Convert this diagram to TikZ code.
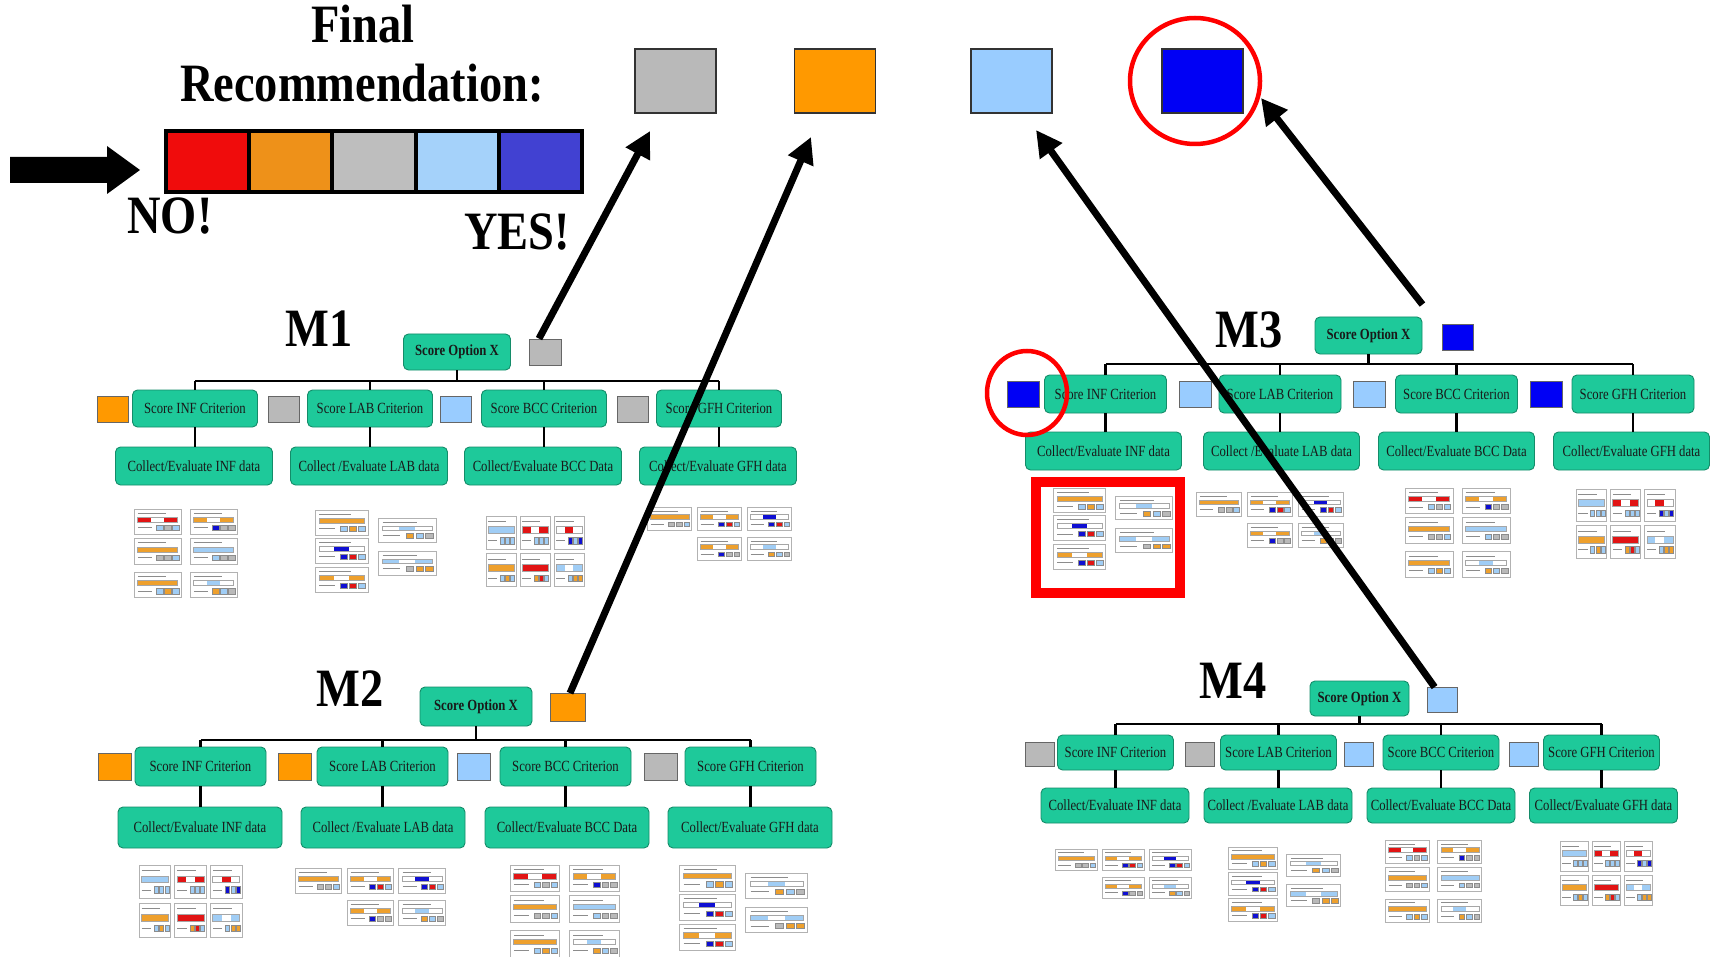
\documentclass[tikz,border=0pt]{standalone}
\usepackage{fontspec}
\setmainfont{Liberation Serif}
\usetikzlibrary{arrows.meta,calc}
\definecolor{teal1}{RGB}{30,201,154}
\definecolor{teal2}{RGB}{20,140,105}
\definecolor{cR}{RGB}{225,20,20}
\definecolor{cO}{RGB}{238,160,45}
\definecolor{cG}{RGB}{185,185,185}
\definecolor{cL}{RGB}{160,205,245}
\definecolor{cB}{RGB}{15,15,210}
\definecolor{lR}{RGB}{240,12,12}
\definecolor{lO}{RGB}{238,145,25}
\definecolor{lG}{RGB}{190,190,190}
\definecolor{lL}{RGB}{165,210,250}
\definecolor{lB}{RGB}{65,65,210}
\definecolor{tO}{RGB}{255,153,0}
\definecolor{tL}{RGB}{153,204,255}
\definecolor{tB}{RGB}{0,0,245}
\definecolor{tG}{RGB}{185,185,185}
\newcommand\bigT[1]{\scalebox{0.86}[1]{\fontsize{54}{60}\selectfont\bfseries #1}}
\newcommand\bt[1]{\scalebox{0.82}[1]{#1}}
\def\cardw{47}\def\cardh{25}
\newcommand\mycard[8]{%
 \fill[white] (#1,#2) rectangle ++(\cardw,\cardh);
 \draw[cardtxt] ({#1+0.08*\cardw},{#2+0.17*\cardh}) -- ++({0.6*\cardw},0);
 \fill[#3] ({#1+0.07*\cardw},{#2+0.32*\cardh}) rectangle ++({0.286*\cardw},{0.2*\cardh});
 \fill[#4] ({#1+0.356*\cardw},{#2+0.32*\cardh}) rectangle ++({0.286*\cardw},{0.2*\cardh});
 \fill[#5] ({#1+0.642*\cardw},{#2+0.32*\cardh}) rectangle ++({0.286*\cardw},{0.2*\cardh});
 \draw[cardline] ({#1+0.07*\cardw},{#2+0.32*\cardh}) rectangle ++({0.858*\cardw},{0.2*\cardh});
 \draw[cardtxt] ({#1+0.08*\cardw},{#2+0.74*\cardh}) -- ++({0.3*\cardw},0);
 \filldraw[cardsq,fill=#6] ({#1+0.48*\cardw},{#2+0.64*\cardh}) rectangle ++({0.13*\cardw},{0.2*\cardh});
 \filldraw[cardsq,fill=#7] ({#1+0.65*\cardw},{#2+0.64*\cardh}) rectangle ++({0.13*\cardw},{0.2*\cardh});
 \filldraw[cardsq,fill=#8] ({#1+0.82*\cardw},{#2+0.64*\cardh}) rectangle ++({0.13*\cardw},{0.2*\cardh});
 \draw[cardbox] (#1,#2) rectangle ++(\cardw,\cardh);
}
\newcommand\cardsA{%
 \def\cardw{47}\def\cardh{25}%
 \mycard{0}{0}{cR}{white}{cR}{cL}{cG}{cL}
 \mycard{56}{0}{cO}{white}{cO}{cB}{cG}{cG}
 \mycard{0}{29}{cO}{cO}{cO}{cG}{cG}{cL}
 \mycard{56}{29}{cL}{cL}{cL}{cL}{cG}{cG}
 \mycard{0}{62}{cO}{cO}{cO}{cL}{cO}{cL}
 \mycard{56}{62}{white}{cL}{white}{cO}{cL}{cG}
}
\newcommand\cardsB{%
 \def\cardw{53}\def\cardh{25}%
 \mycard{0}{0}{cO}{cO}{cO}{cL}{cO}{cL}
 \mycard{0}{28}{white}{cB}{white}{cB}{cR}{cL}
 \mycard{0}{57}{cO}{white}{cO}{cB}{cR}{cL}
 \def\cardw{58}\def\cardh{24}%
 \mycard{63}{8}{white}{cL}{white}{cO}{cL}{cG}
 \mycard{63}{41}{cL}{white}{cL}{cG}{cO}{cO}
}
\newcommand\cardsC{%
 \def\cardw{30}\def\cardh{31}%
 \mycard{0}{0}{cL}{cL}{cL}{cL}{cL}{cL}
 \mycard{34}{0}{cR}{white}{cR}{cL}{cL}{cL}
 \mycard{68}{0}{white}{cR}{white}{cB}{cL}{cB}
 \mycard{0}{35}{cO}{cO}{cO}{cL}{cO}{cL}
 \mycard{34}{35}{cR}{cR}{cR}{cO}{cR}{cL}
 \mycard{68}{35}{cL}{white}{cL}{cL}{cO}{cO}
}
\newcommand\cardsD{%
 \def\cardw{44}\def\cardh{24}%
 \mycard{0}{0}{cO}{cO}{cO}{cG}{cG}{cL}
 \mycard{49}{0}{cO}{white}{cO}{cB}{cR}{cL}
 \mycard{98}{0}{white}{cB}{white}{cB}{cR}{cL}
 \mycard{49}{31}{cO}{white}{cO}{cB}{cG}{cG}
 \mycard{98}{31}{white}{cL}{white}{cO}{cL}{cG}
}
\newcommand\grp[5]{\begin{scope}[shift={(#1,#2)},xscale=#3,yscale=#4]#5\end{scope}}
\newcommand\treelinks[1]{%
 \draw[link] (#1o.south) -- (#1o.south |- #1bar);
 \draw[link] (#1c1.north |- #1bar) -- (#1c4.north |- #1bar);
 \foreach \ii in {1,2,3,4}{%
  \draw[link] (#1c\ii.north |- #1bar) -- (#1c\ii.north);
  \draw[link] (#1c\ii.south) -- (#1c\ii.south |- #1d\ii.north);
 }%
}
\begin{document}
\begin{tikzpicture}[x=1pt,y=-1pt,
 box/.style={draw=teal2, fill=teal1, line width=0.9pt, rounded corners=5pt, inner sep=0pt, text=black!90, font=\fontsize{15.5}{17}\selectfont},
 opt/.style={box, font=\fontsize{15.5}{17}\selectfont\bfseries},
 crit/.style={box},
 coll/.style={box},
 sq/.style={draw=black!60, line width=0.8pt, inner sep=0pt},
 topsq/.style={draw=black!80, line width=1.2pt, inner sep=0pt, minimum width=81pt, minimum height=64pt},
 link/.style={line width=2.4pt, black},
 bigarr/.style={line width=7pt, black, -{Triangle[length=26pt,width=26pt]}},
 cardtxt/.style={line width=0.9pt, black!45},
 cardline/.style={line width=0.3pt, black!35},
 cardsq/.style={line width=0.3pt, draw=black!45},
 cardbox/.style={line width=0.8pt, draw=black!30},
 title/.style={inner sep=0pt}]
\useasboundingbox (0,0) rectangle (1715,957);
\fill[white] (0,0) rectangle (1715,957);

% ---- header ----
\node[title] (tfinal) at (363,24) {\bigT{Final}};
\node[title] (trec) at (362,83) {\bigT{Recommendation:}};
\foreach \i/\col in {0/lR,1/lO,2/lG,3/lL,4/lB}{
 \draw[line width=4pt, fill=\col] ({166+83.2*\i},131) rectangle ++(83.2,61);
}
\fill (10,157) -- (107,157) -- (107,146) -- (140,170) -- (107,194) -- (107,183) -- (10,183) -- cycle;
\node[title] (tno) at (170,216) {\bigT{NO!}};
\node[title] (tyes) at (517,232) {\bigT{YES!}};

\node[topsq, fill=tG] (top1) at (675.5,81) {};
\node[topsq, fill=tO] (top2) at (835,81) {};
\node[topsq, fill=tL] (top3) at (1011.5,81) {};
\node[topsq, fill=tB] (top4) at (1202.5,81) {};
\draw[red, line width=4.5pt] (1195,81) ellipse [x radius=65pt, y radius=63pt];

% ---- M1 ----
\node[title] (lm1) at (319,329) {\bigT{M1}};
\node[opt, minimum width=107pt, minimum height=36pt] (m1o) at (457,352) {\bt{Score Option X}};
\node[sq, fill=tG, minimum width=32pt, minimum height=26pt] (m1s) at (545,352) {};
\coordinate (m1bar) at (0,381);
\node[crit, minimum width=125pt, minimum height=37pt] (m1c1) at (195,408.5) {\bt{Score INF Criterion}};
\node[crit, minimum width=125pt, minimum height=37pt] (m1c2) at (370,408.5) {\bt{Score LAB Criterion}};
\node[crit, minimum width=125pt, minimum height=37pt] (m1c3) at (544,408.5) {\bt{Score BCC Criterion}};
\node[crit, minimum width=125pt, minimum height=37pt] (m1c4) at (719,408.5) {\bt{Score GFH Criterion}};
\node[sq, fill=tO, minimum width=31pt, minimum height=26pt] (m1q1) at (112.5,409) {};
\node[sq, fill=tG, minimum width=31pt, minimum height=26pt] (m1q2) at (284,409) {};
\node[sq, fill=tL, minimum width=31pt, minimum height=26pt] (m1q3) at (455.5,409) {};
\node[sq, fill=tG, minimum width=31pt, minimum height=26pt] (m1q4) at (633,409) {};
\node[coll, minimum width=157pt, minimum height=38pt] (m1d1) at (194,466) {\bt{Collect/Evaluate INF data}};
\node[coll, minimum width=157pt, minimum height=38pt] (m1d2) at (369,466) {\bt{Collect /Evaluate LAB data}};
\node[coll, minimum width=157pt, minimum height=38pt] (m1d3) at (543,466) {\bt{Collect/Evaluate BCC Data}};
\node[coll, minimum width=157pt, minimum height=38pt] (m1d4) at (718,466) {\bt{Collect/Evaluate GFH data}};
\treelinks{m1}
\grp{134}{509}{1}{1.02}{\cardsA}
\grp{315}{510}{1}{1}{\cardsB}
\grp{486}{516}{1}{1.07}{\cardsC}
\grp{647}{507}{1.02}{0.97}{\cardsD}

% ---- M2 ----
\node[title] (lm2) at (350,689) {\bigT{M2}};
\node[opt, minimum width=112pt, minimum height=39pt] (m2o) at (476,706.5) {\bt{Score Option X}};
\node[sq, fill=tO, minimum width=35pt, minimum height=28pt] (m2s) at (568,707.5) {};
\coordinate (m2bar) at (0,740);
\node[crit, minimum width=131pt, minimum height=39pt] (m2c1) at (200.5,766.5) {\bt{Score INF Criterion}};
\node[crit, minimum width=131pt, minimum height=39pt] (m2c2) at (382.5,766.5) {\bt{Score LAB Criterion}};
\node[crit, minimum width=131pt, minimum height=39pt] (m2c3) at (565.5,766.5) {\bt{Score BCC Criterion}};
\node[crit, minimum width=131pt, minimum height=39pt] (m2c4) at (750.5,766.5) {\bt{Score GFH Criterion}};
\node[sq, fill=tO, minimum width=33pt, minimum height=27pt] (m2q1) at (114.5,766.5) {};
\node[sq, fill=tO, minimum width=33pt, minimum height=27pt] (m2q2) at (295,766.5) {};
\node[sq, fill=tL, minimum width=33pt, minimum height=27pt] (m2q3) at (473.5,766.5) {};
\node[sq, fill=tG, minimum width=33pt, minimum height=27pt] (m2q4) at (660.5,766.5) {};
\node[coll, minimum width=164pt, minimum height=41pt] (m2d1) at (200,827.5) {\bt{Collect/Evaluate INF data}};
\node[coll, minimum width=164pt, minimum height=41pt] (m2d2) at (383,827.5) {\bt{Collect /Evaluate LAB data}};
\node[coll, minimum width=164pt, minimum height=41pt] (m2d3) at (567,827.5) {\bt{Collect/Evaluate BCC Data}};
\node[coll, minimum width=164pt, minimum height=41pt] (m2d4) at (750,827.5) {\bt{Collect/Evaluate GFH data}};
\treelinks{m2}
\grp{139}{865}{1.05}{1.09}{\cardsC}
\grp{295}{868}{1.06}{1.04}{\cardsD}
\grp{510}{865}{1.06}{1.06}{\cardsA}
\grp{679}{865}{1.06}{1.04}{\cardsB}

% ---- M3 ----
\node[title] (lm3) at (1249,330) {\bigT{M3}};
\node[opt, minimum width=107pt, minimum height=37pt] (m3o) at (1368.5,335.5) {\bt{Score Option X}};
\node[sq, fill=tB, minimum width=31pt, minimum height=26pt] (m3s) at (1457.5,337) {};
\coordinate (m3bar) at (0,364);
\node[crit, minimum width=122pt, minimum height=38pt] (m3c1) at (1105.5,394) {\bt{Score INF Criterion}};
\node[crit, minimum width=122pt, minimum height=38pt] (m3c2) at (1280,394) {\bt{Score LAB Criterion}};
\node[crit, minimum width=122pt, minimum height=38pt] (m3c3) at (1456.5,394) {\bt{Score BCC Criterion}};
\node[crit, minimum width=122pt, minimum height=38pt] (m3c4) at (1633,394) {\bt{Score GFH Criterion}};
\node[sq, fill=tB, minimum width=32pt, minimum height=26pt] (m3q1) at (1023,394.5) {};
\node[sq, fill=tL, minimum width=32pt, minimum height=26pt] (m3q2) at (1195,394.5) {};
\node[sq, fill=tL, minimum width=32pt, minimum height=26pt] (m3q3) at (1369,394.5) {};
\node[sq, fill=tB, minimum width=32pt, minimum height=26pt] (m3q4) at (1546,394.5) {};
\node[coll, minimum width=156pt, minimum height=38pt] (m3d1) at (1103.5,451) {\bt{Collect/Evaluate INF data}};
\node[coll, minimum width=156pt, minimum height=38pt] (m3d2) at (1281.5,451) {\bt{Collect /Evaluate LAB data}};
\node[coll, minimum width=156pt, minimum height=38pt] (m3d3) at (1456.5,451) {\bt{Collect/Evaluate BCC Data}};
\node[coll, minimum width=156pt, minimum height=38pt] (m3d4) at (1631.5,451) {\bt{Collect/Evaluate GFH data}};
\treelinks{m3}
\grp{1053}{488}{0.99}{0.99}{\cardsB}
\grp{1196}{492}{1.04}{1.0}{\cardsD}
\grp{1405}{488}{1.02}{1.03}{\cardsA}
\grp{1576}{489}{1.01}{1.05}{\cardsC}
\draw[red, line width=4.5pt] (1027,393) ellipse [x radius=40pt, y radius=42pt];
\draw[red, line width=10pt] (1035.5,482) rectangle (1179.5,593);

% ---- M4 ----
\node[title] (lm4) at (1233,681) {\bigT{M4}};
\node[opt, minimum width=99pt, minimum height=35pt] (m4o) at (1359.5,698.5) {\bt{Score Option X}};
\node[sq, fill=tL, minimum width=30pt, minimum height=25pt] (m4s) at (1442,700) {};
\coordinate (m4bar) at (0,724);
\node[crit, minimum width=116pt, minimum height=35pt] (m4c1) at (1115.5,752.5) {\bt{Score INF Criterion}};
\node[crit, minimum width=116pt, minimum height=35pt] (m4c2) at (1278.5,752.5) {\bt{Score LAB Criterion}};
\node[crit, minimum width=116pt, minimum height=35pt] (m4c3) at (1441,752.5) {\bt{Score BCC Criterion}};
\node[crit, minimum width=116pt, minimum height=35pt] (m4c4) at (1601.5,752.5) {\bt{Score GFH Criterion}};
\node[sq, fill=tG, minimum width=29pt, minimum height=24pt] (m4q1) at (1039.5,754) {};
\node[sq, fill=tG, minimum width=29pt, minimum height=24pt] (m4q2) at (1199.5,754) {};
\node[sq, fill=tL, minimum width=29pt, minimum height=24pt] (m4q3) at (1359,754) {};
\node[sq, fill=tL, minimum width=29pt, minimum height=24pt] (m4q4) at (1524,754) {};
\node[coll, minimum width=148pt, minimum height=35pt] (m4d1) at (1115,805.5) {\bt{Collect/Evaluate INF data}};
\node[coll, minimum width=148pt, minimum height=35pt] (m4d2) at (1278,805.5) {\bt{Collect /Evaluate LAB data}};
\node[coll, minimum width=148pt, minimum height=35pt] (m4d3) at (1441,805.5) {\bt{Collect/Evaluate BCC Data}};
\node[coll, minimum width=148pt, minimum height=35pt] (m4d4) at (1603.5,805.5) {\bt{Collect/Evaluate GFH data}};
\treelinks{m4}
\grp{1055}{849}{0.96}{0.9}{\cardsD}
\grp{1228}{847}{0.93}{0.91}{\cardsB}
\grp{1385}{840}{0.94}{0.95}{\cardsA}
\grp{1560}{841}{0.94}{0.97}{\cardsC}

% ---- arrows ----
\coordinate (e1) at (650,131);
\coordinate (e2) at (811,137);
\coordinate (e3) at (1036,130);
\coordinate (e4) at (1261,98);
\draw[bigarr] ([xshift=-6pt]m1s.north) -- (e1);
\draw[bigarr] ([xshift=2pt]m2s.north) -- (e2);
\draw[bigarr] ([xshift=8pt]m4s.north west) -- (e3);
\draw[bigarr] ($(m3o.north east)+(0,-12)$) -- (e4);
\end{tikzpicture}
\end{document}
